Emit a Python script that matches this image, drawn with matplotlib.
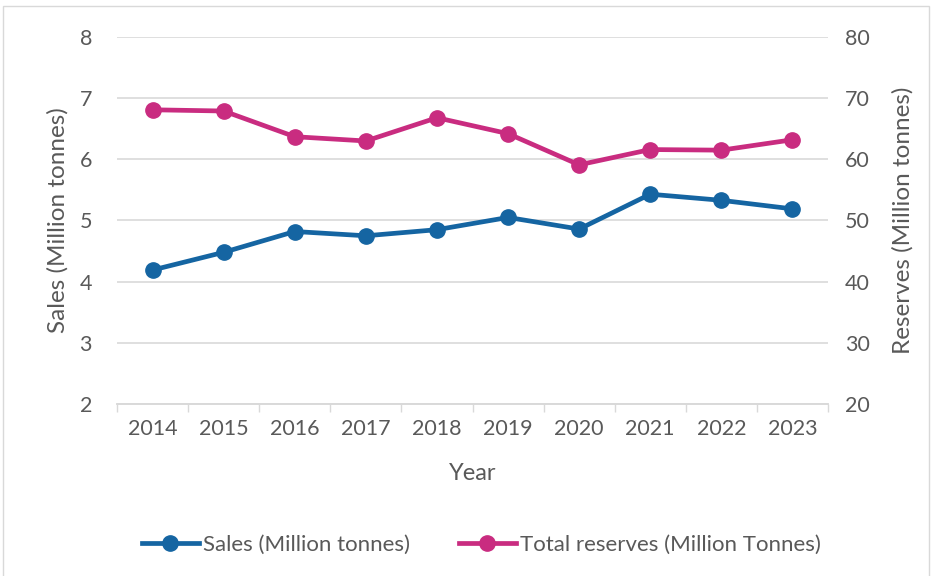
import matplotlib
matplotlib.use("Agg")
import matplotlib.pyplot as plt
from matplotlib.patches import Rectangle

years = ["2014", "2015", "2016", "2017", "2018", "2019", "2020", "2021", "2022", "2023"]
sales = [4.19, 4.48, 4.82, 4.75, 4.85, 5.05, 4.86, 5.43, 5.33, 5.19]
reserves = [68.1, 67.9, 63.7, 63.0, 66.8, 64.2, 59.1, 61.6, 61.5, 63.2]

BLUE = "#1565A2"
PINK = "#C92C80"
TEXT = "#595959"
GRID = "#D9D9D9"

plt.rcParams["font.family"] = ["Lato", "DejaVu Sans"]
plt.rcParams["font.size"] = 15.5

fig = plt.figure(figsize=(9.36, 5.76), dpi=100)
ax = fig.add_axes([117 / 936, 1 - 404 / 576, 711 / 936, 367 / 576])
ax2 = ax.twinx()

x = list(range(len(years)))
l1, = ax.plot(x, sales, color=BLUE, lw=3.4, marker="o", ms=11, zorder=3,
              label="Sales (Million tonnes)")
l2, = ax2.plot(x, reserves, color=PINK, lw=3.4, marker="o", ms=11, zorder=3,
               label="Total reserves (Million Tonnes)")

ax.set_xlim(-0.5, len(years) - 0.5)
ax.set_ylim(2, 8)
ax2.set_ylim(20, 80)
ax.set_yticks(range(2, 9))
ax2.set_yticks(range(20, 81, 10))
ax.set_xticks(x)
ax.set_xticklabels(years)
ax.set_xticks([i - 0.5 for i in range(len(years) + 1)], minor=True)
ax.tick_params(axis="x", which="major", length=0, pad=11, colors=TEXT)
ax.tick_params(axis="x", which="minor", length=6, width=1, color=GRID)
ax.tick_params(axis="y", length=0, pad=18, colors=TEXT)
ax2.tick_params(axis="y", length=0, pad=12, colors=TEXT)

ax.grid(axis="y", color=GRID, lw=1.2)
ax.set_axisbelow(True)
for a in (ax, ax2):
    for side in ("top", "left", "right"):
        a.spines[side].set_visible(False)
    a.spines["bottom"].set_color(GRID)
    a.spines["bottom"].set_linewidth(1.2)

ax.set_xlabel("Year", color=TEXT, fontsize=17, labelpad=17)
ax.set_ylabel("Sales (Million tonnes)", color=TEXT, fontsize=17.5, labelpad=8)
ax2.set_ylabel("Reserves (Million tonnes)", color=TEXT, fontsize=17.5, labelpad=16)

fig.legend(handles=[l1, l2], loc="center", bbox_to_anchor=(0.514, 0.054),
           ncol=2, frameon=False, handlelength=2.6, handletextpad=0.15,
           columnspacing=2.2, labelcolor=TEXT, fontsize=16)

fig.patches.append(Rectangle((0.003, -0.01), 0.99, 1.0, transform=fig.transFigure,
                             fill=False, edgecolor=GRID, lw=1))

fig.savefig("out.png", dpi=100)
